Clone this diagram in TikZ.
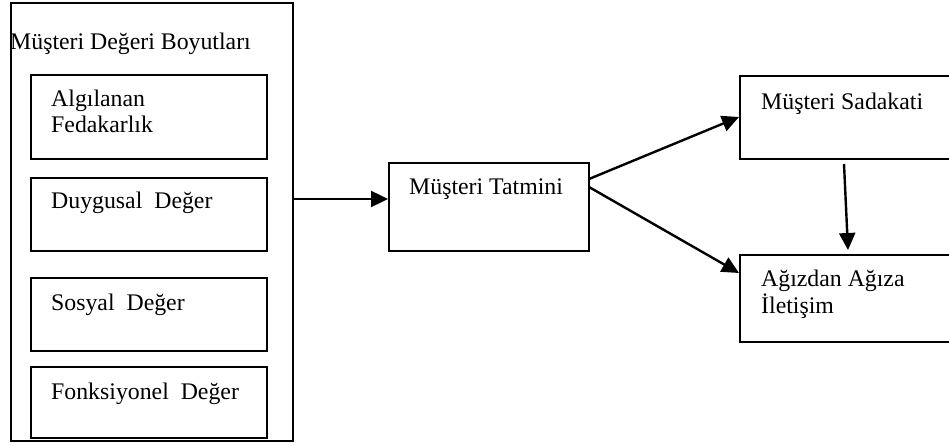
\documentclass[tikz,border=0pt]{standalone}
\usepackage{fontspec}
\setmainfont{Liberation Serif}
\usetikzlibrary{arrows.meta}
\begin{document}
\begin{tikzpicture}[x=1pt,y=-1pt,
  box/.style={draw=black,line width=2pt,rectangle,anchor=north west,inner sep=0pt},
  lbl/.style={anchor=base west,inner sep=0pt,font=\fontsize{23.8}{26.5}\selectfont,align=left},
  arr/.style={line width=2.4pt,-{Triangle[length=17pt,width=16pt]}}]
\clip (0,0) rectangle (949,446);
\fill[white] (0,0) rectangle (949,446);
% outer box
\node[box,minimum width=282pt,minimum height=438pt] (outer) at (10,2) {};
\node[lbl] (title) at (10,50) {Müşteri Değeri Boyutları};
% inner boxes
\node[box,minimum width=236pt,minimum height=84pt] (b1) at (30,74) {};
\node[box,minimum width=236pt,minimum height=73pt] (b2) at (30,177) {};
\node[box,minimum width=236pt,minimum height=73pt] (b3) at (30,277) {};
\node[box,minimum width=236pt,minimum height=71pt] (b4) at (30,366) {};
\node[lbl] (t1) at (51,133) {Algılanan\\Fedakarlık};
\node[lbl] (t2) at (51,209) {Duygusal\ \ Değer};
\node[lbl] (t3) at (51,310) {Sosyal\ \ Değer};
\node[lbl] (t4) at (51,399) {Fonksiyonel\ \ Değer};
% middle
\node[box,minimum width=200pt,minimum height=88pt] (mt) at (388,162) {};
\node[lbl] (mtt) at (409,195) {Müşteri Tatmini};
% right
\node[box,minimum width=230pt,minimum height=83pt] (ms) at (739,75) {};
\node[lbl] (mst) at (761,110) {Müşteri Sadakati};
\node[box,minimum width=230pt,minimum height=87pt] (ai) at (739,254) {};
\node[lbl] (ait) at (761,313) {Ağızdan Ağıza\\İletişim};
% connectors
\coordinate (o1) at (outer.east |- 0,199);
\coordinate (m1) at (mt.west |- 0,199);
\draw[arr] (o1) -- (m1);
\coordinate (mu) at (589,179);
\coordinate (ml) at (589,187);
\coordinate (su) at (ms.west |- 0,117);
\coordinate (al) at (ai.west |- 0,273);
\draw[arr] (mu) -- (su);
\draw[arr] (ml) -- (al);
\coordinate (sv) at (ms.south -| 844,0);
\coordinate (av) at (ai.north -| 848,0);
\draw[arr] ([yshift=-4pt]sv) -- ([yshift=4pt]av);
\end{tikzpicture}
\end{document}
